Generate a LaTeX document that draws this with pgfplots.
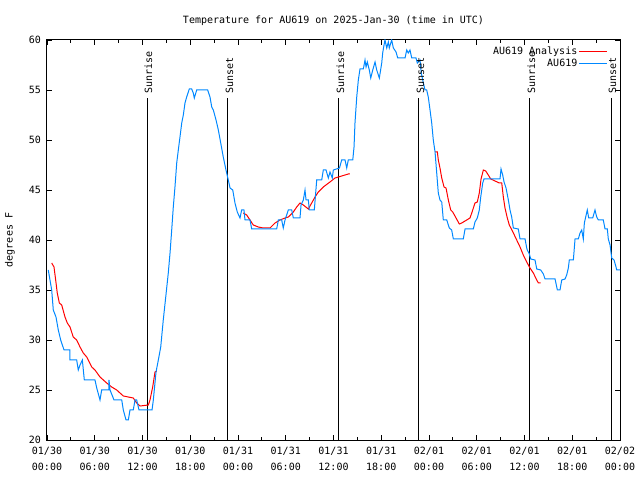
\documentclass[border=0pt]{standalone}
\usepackage{fontspec}
\setmainfont{DejaVu Sans Mono}
\usepackage{pgfplots}
\pgfplotsset{compat=1.18}
\definecolor{gblue}{RGB}{0,136,255}
\begin{document}
\begin{tikzpicture}[font=\fontsize{10bp}{12bp}\selectfont]
\begin{axis}[
  at={(0,0)}, anchor=south west,
  scale only axis, width=573bp, height=400bp,
  xmin=0, xmax=72, ymin=20, ymax=60,
  xtick={0,6,...,72},
  xticklabels={01/30\\00:00,01/30\\06:00,01/30\\12:00,01/30\\18:00,01/31\\00:00,01/31\\06:00,01/31\\12:00,01/31\\18:00,02/01\\00:00,02/01\\06:00,02/01\\12:00,02/01\\18:00,02/02\\00:00},
  minor xtick={3,9,...,69},
  ytick={20,25,...,60},
  tick align=inside,
  major tick length=5bp, minor tick length=3bp,
  tick style={black, line width=0.8bp},
  axis line style={line width=1bp},
  xticklabel style={align=center, font=\fontsize{10bp}{16bp}\selectfont, inner sep=0bp, anchor=north, yshift=-7bp},
  yticklabel style={inner sep=0bp, anchor=east, xshift=-6bp},
  /pgf/number format/assume math mode=true,
  ylabel={degrees F},
  ylabel style={at={(axis description cs:-0.0646,0.5)}, anchor=center, rotate=0},
  title={Temperature for AU619 on 2025-Jan-30 (time in UTC)},
  title style={at={(axis description cs:0.5,1)}, anchor=base, yshift=11bp, inner sep=0bp},
  legend style={at={(rel axis cs:1,1)}, anchor=north east, xshift=-9bp, yshift=-3bp, draw=none, fill=none, legend cell align=right, row sep=0bp, nodes={inner sep=1.5bp}},
  legend plot pos=right,
  legend image code/.code={\draw[#1, line width=1bp] (5bp,0bp) -- (33bp,0bp);},
  unbounded coords=jump,
]
% sunrise / sunset lines
\addplot[black, line width=1bp, forget plot] coordinates {(12.57,20) (12.57,54.2)};
\addplot[black, line width=1bp, forget plot] coordinates {(22.74,20) (22.74,54.2)};
\addplot[black, line width=1bp, forget plot] coordinates {(36.69,20) (36.69,54.2)};
\addplot[black, line width=1bp, forget plot] coordinates {(46.74,20) (46.74,54.2)};
\addplot[black, line width=1bp, forget plot] coordinates {(60.69,20) (60.69,54.2)};
\addplot[black, line width=1bp, forget plot] coordinates {(70.87,20) (70.87,54.2)};

\addplot[red, line width=1bp] coordinates {
(0.59,37.7) (0.88,37.3) (1.09,36) (1.29,34.7) (1.55,33.7) (1.85,33.5) (2.26,32.3) (2.55,31.7) (2.89,31.3) (3.30,30.3) (3.73,30) (4.15,29.3) (4.56,28.7) (4.99,28.3) (5.62,27.3) (6.03,27) (6.66,26.3) (7.50,25.7) (8.13,25.3) (8.76,25) (9.59,24.4) (10.84,24.2) (11.27,23.7) (11.69,23.4) (12.73,23.5) (12.94,24) (13.28,25.3) (13.57,26.8) (13.78,26.9)
(20,nan)
(24.67,42.7) (25.09,42.5) (25.51,42) (25.92,41.5) (26.55,41.3) (27.18,41.2) (28.02,41.2) (28.65,41.7) (29.28,42) (29.91,42.2) (30.32,42.3) (30.95,42.8) (31.38,43.3) (31.79,43.7) (32.21,43.5) (32.84,43.1) (33.26,43.7) (33.68,44.3) (34.09,44.8) (34.72,45.3) (35.56,45.8) (36.19,46.2) (37.03,46.4) (37.86,46.6) (38.07,46.6)
(44,nan)
(48.76,48.8) (49.05,48.8) (49.17,48) (49.38,47.2) (49.60,46.2) (49.89,45.3) (50.14,45.2) (50.43,44) (50.73,43) (50.98,42.8) (51.40,42.2) (51.81,41.6) (52.11,41.7) (52.74,42) (53.15,42.2) (53.37,42.7) (53.78,43.7) (54.07,43.8) (54.32,44.7) (54.54,46.1) (54.83,47) (55.13,46.9) (55.45,46.5) (55.76,46.1) (56.30,45.9) (56.84,45.7) (57.14,45.7) (57.34,44.3) (57.55,43.2) (57.84,42.2) (58.09,41.5) (58.60,40.7) (59.02,40) (59.44,39.3) (59.85,38.5) (60.28,37.8) (60.69,37.2) (61.11,36.7) (61.54,36) (61.74,35.7) (62.04,35.7)
};
\addlegendentry{AU619 Analysis}

\addplot[gblue, line width=1bp] coordinates {
(0.16,37) (0.59,35) (0.79,33) (1.13,32.3) (1.42,31) (1.72,30) (2.14,29) (2.89,29) (2.89,28) (3.73,28) (3.93,27) (4.15,27.5) (4.44,28) (4.69,26) (6.03,26) (6.25,25.2) (6.66,24) (6.87,25) (7.79,25) (7.79,26) (7.92,25) (8.42,24) (9.39,24) (9.59,23) (9.93,22) (10.22,22) (10.43,23) (10.84,23) (11.06,24) (11.27,24) (11.56,23) (13.2,23) (13.36,24) (13.70,26.8) (13.99,28) (14.29,29.3) (14.61,32) (14.92,34.3) (15.24,36.7) (15.46,38.7) (15.67,41) (15.87,43.3) (16.08,45.3) (16.30,47.7) (16.50,49) (16.71,50.3) (16.93,51.7) (17.13,52.5) (17.34,53.7) (17.55,54.3) (17.88,55.1) (18.18,55.1) (18.38,54.7) (18.51,54.2) (18.81,55) (20.19,55) (20.48,54.3) (20.70,53.3) (20.90,53) (21.24,52) (21.53,51) (21.83,49.7) (22.15,48.3) (22.49,47) (22.78,46) (23.00,45.2) (23.34,45) (23.62,43.7) (23.91,42.8) (24.25,42.2) (24.46,43) (24.75,43) (24.88,42) (25.51,42) (25.72,41.1) (28.86,41.1) (29.07,42) (29.49,42) (29.69,41.2) (29.91,42) (30.32,43) (30.75,43) (30.95,42.2) (31.79,42.2) (31.92,43.5) (32.21,44) (32.42,45) (32.55,44) (32.84,44) (32.96,43) (33.59,43) (33.89,46) (34.52,46) (34.72,47) (35.06,47) (35.35,46.2) (35.56,46.8) (35.85,46.2) (35.98,47) (36.75,47.2) (37.03,48) (37.45,48) (37.66,47.2) (37.86,48) (38.42,48) (38.58,49.3) (38.70,51.7) (38.92,54.3) (39.12,56) (39.33,57.1) (39.75,57.1) (39.96,58) (40.09,57.3) (40.25,57.8) (40.50,57) (40.68,56.2) (40.93,57) (41.22,57.8) (41.43,57) (41.76,56.2) (42.06,57.7) (42.18,58.7) (42.35,59.5) (42.47,60) (42.69,59.2) (42.89,59.8) (43.01,59.2) (43.31,60) (43.52,59.2) (43.86,58.8) (44.07,58.2) (44.99,58.2) (45.20,59) (45.40,58.7) (45.61,59) (45.83,58.2) (46.37,58.2) (46.53,57.7) (46.87,58) (47.03,56.7) (47.29,55.7) (47.50,55) (47.71,55) (47.91,54.3) (48.13,53) (48.34,51.7) (48.54,50) (48.76,48.8) (48.97,46.7) (49.17,44.7) (49.38,44) (49.60,43.8) (49.80,42) (50.23,42) (50.55,41.2) (50.85,41) (51.06,40.1) (52.31,40.1) (52.53,41.1) (53.57,41.1) (53.78,41.8) (54.07,42.2) (54.32,43) (54.50,44.3) (54.75,45.7) (54.91,46.1) (56.92,46.1) (57.05,47.1) (57.26,46.5) (57.43,45.8) (57.68,45.2) (57.97,44) (58.18,43) (58.39,42.3) (58.60,41.2) (59.22,41.1) (59.44,40.1) (60.07,40.1) (60.28,39.2) (60.35,39) (60.61,38.6) (60.78,38.1) (61.32,38) (61.54,37.1) (62.04,37) (62.37,36.6) (62.58,36.1) (63.84,36.1) (64.13,35) (64.46,35) (64.68,36) (65.09,36.1) (65.30,36.5) (65.51,37.2) (65.63,38) (66.14,38) (66.35,40.1) (66.76,40.1) (66.98,40.7) (67.19,41) (67.39,40.1) (67.52,41.7) (67.69,42.3) (67.89,43) (68.07,42.2) (68.57,42.2) (68.86,43) (69.07,42.3) (69.28,42) (69.90,42) (70.12,41.1) (70.41,41.1) (70.53,40.1) (70.75,39.5) (70.96,38.2) (71.25,38) (71.50,37.3) (71.59,37) (72.0,37)
};
\addlegendentry{AU619}

\node[rotate=90, anchor=west, inner sep=0bp] at (axis cs:12.75,54.6) {Sunrise};
\node[rotate=90, anchor=west, inner sep=0bp] at (axis cs:22.92,54.6) {Sunset};
\node[rotate=90, anchor=west, inner sep=0bp] at (axis cs:36.87,54.6) {Sunrise};
\node[rotate=90, anchor=west, inner sep=0bp] at (axis cs:46.92,54.6) {Sunset};
\node[rotate=90, anchor=west, inner sep=0bp] at (axis cs:60.87,54.6) {Sunrise};
\node[rotate=90, anchor=west, inner sep=0bp] at (axis cs:71.05,54.6) {Sunset};
\end{axis}
\pgfresetboundingbox
\path (-47bp,-40bp) rectangle (593bp,440bp);
\end{tikzpicture}
\end{document}
